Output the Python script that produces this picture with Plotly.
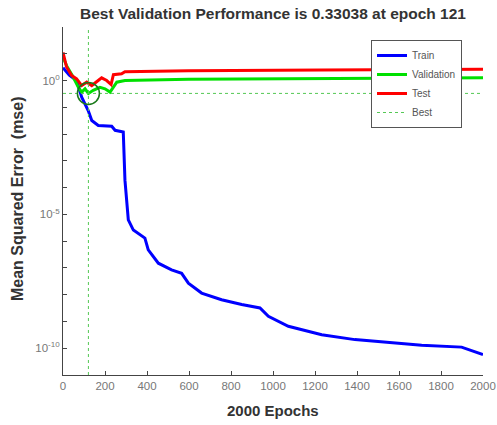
import plotly.graph_objects as go

# ---- data ----
train_epochs = [0, 30, 65, 89, 120, 137, 168, 232, 248, 287, 295, 303, 311, 335, 390, 406, 454, 517,
                565, 597, 660, 755, 851, 938, 978, 1073, 1232, 1390, 1549, 1708, 1898, 1930, 2000]
train_mse = [3.0, 1.6, 1.0, 0.24, 0.076, 0.032, 0.021, 0.0195, 0.0138, 0.012, 1.9e-4, 4.6e-5, 6.2e-6,
             2.6e-6, 1.3e-6, 4.7e-7, 1.5e-7, 8.5e-8, 6.3e-8, 2.7e-8, 1.15e-8, 6.5e-9, 4.3e-9,
             3.2e-9, 1.55e-9, 6.6e-10, 3.2e-10, 2.1e-10, 1.6e-10, 1.3e-10, 1.1e-10, 8.9e-11, 5.8e-11]

val_epochs = [0, 17, 49, 73, 89, 105, 121, 144, 176, 200, 224, 240, 256, 295, 597, 2000]
val_mse = [7.4, 3.6, 1.32, 0.56, 0.37, 0.49, 0.33038, 0.43, 0.56, 0.49, 0.37, 0.56, 0.87, 1.0, 1.12, 1.26]

test_epochs = [0, 17, 41, 65, 89, 113, 137, 160, 184, 208, 229, 240, 279, 295, 597, 1232, 2000]
test_mse = [11.2, 3.2, 1.55, 1.15, 0.65, 0.87, 0.65, 0.87, 1.26, 1.0, 0.71, 1.66, 1.78, 2.14, 2.34, 2.5, 2.63]

best_epoch = 121
best_perf = 0.33038

x_tick_vals = [0, 200, 400, 600, 800, 1000, 1200, 1400, 1600, 1800, 2000]
y_tick_vals = [1, 1e-5, 1e-10]
y_tick_text = ["10<sup>0</sup>", "10<sup>-5</sup>", "10<sup>-10</sup>"]
y_minor_vals = [10.0 ** k for k in range(-11, 3)]

FONT = "Liberation Sans, Arial, sans-serif"
W, H = 497, 425
PL, PR, PT, PB = 63, 483, 27, 375  # plot area in window pixels

fig = go.Figure()
fig.add_trace(go.Scatter(x=train_epochs, y=train_mse, mode="lines", name="Train",
                         line=dict(color="#0000ff", width=3)))
fig.add_trace(go.Scatter(x=val_epochs, y=val_mse, mode="lines", name="Validation",
                         line=dict(color="#00e000", width=3)))
fig.add_trace(go.Scatter(x=test_epochs, y=test_mse, mode="lines", name="Test",
                         line=dict(color="#ff0000", width=3)))
fig.add_trace(go.Scatter(x=[0, 2000], y=[best_perf, best_perf], mode="lines", name="Best",
                         line=dict(color="#55c855", width=1, dash="dot")))
fig.add_trace(go.Scatter(x=[best_epoch, best_epoch], y=[1e-11, 1e2], mode="lines", showlegend=False,
                         line=dict(color="#55c855", width=1, dash="dot")))
fig.add_trace(go.Scatter(x=[best_epoch], y=[best_perf], mode="markers", showlegend=False,
                         marker=dict(symbol="circle-open", size=22, color="#1a7a1a",
                                     line=dict(width=1.5, color="#1a7a1a"))))

pw, ph = PR - PL, PB - PT
fig.update_layout(
    width=W, height=H,
    margin=dict(l=PL, r=W - PR, t=PT, b=H - PB, autoexpand=False),
    paper_bgcolor="white", plot_bgcolor="white",
    font=dict(family=FONT, size=11.5, color="#666666"),
    title=dict(text="<b>Best Validation Performance is 0.33038 at epoch 121</b>",
               x=273 / W, xanchor="center", y=1 - 14 / H, yanchor="middle",
               font=dict(family=FONT, size=15.5, color="#333333")),
    showlegend=True,
    legend=dict(x=(371 - PL) / pw, y=(PB - 40) / ph, xanchor="left", yanchor="top",
                bgcolor="white", bordercolor="#555555", borderwidth=1,
                font=dict(family=FONT, size=10, color="#555555"),
                tracegroupgap=0, itemwidth=30),
    xaxis=dict(range=[0, 2000], tickvals=x_tick_vals, ticks="inside", ticklen=4,
               showline=True, linecolor="#444444", linewidth=1, tickcolor="#444444",
               showgrid=False, zeroline=False, automargin=False,
               tickfont=dict(family=FONT, size=11.5, color="#777777")),
    yaxis=dict(type="log", range=[-11, 2], tickvals=y_tick_vals, ticktext=y_tick_text,
               ticks="inside", ticklen=4, tickcolor="#444444",
               showline=True, linecolor="#444444", linewidth=1,
               showgrid=False, zeroline=False, automargin=False,
               minor=dict(tickvals=y_minor_vals, ticks="inside", ticklen=4, tickcolor="#444444"),
               tickfont=dict(family=FONT, size=11.5, color="#777777")),
    annotations=[
        dict(text="<b>Mean Squared Error  (mse)</b>", xref="paper", yref="paper",
             x=(18 - PL) / pw, y=(PB - 199) / ph, xanchor="center", yanchor="middle",
             textangle=-90, showarrow=False,
             font=dict(family=FONT, size=16, color="#333333")),
        dict(text="<b>2000 Epochs</b>", xref="paper", yref="paper",
             x=(273 - PL) / pw, y=(PB - 410) / ph, xanchor="center", yanchor="middle",
             showarrow=False, font=dict(family=FONT, size=15, color="#333333")),
    ],
)

# remove the browser's default 8px body margin so the figure fills the window exactly
fig.write_html("out.html", config={"displayModeBar": False},
               post_script="document.body.style.margin='0px';document.body.style.overflow='hidden';")
